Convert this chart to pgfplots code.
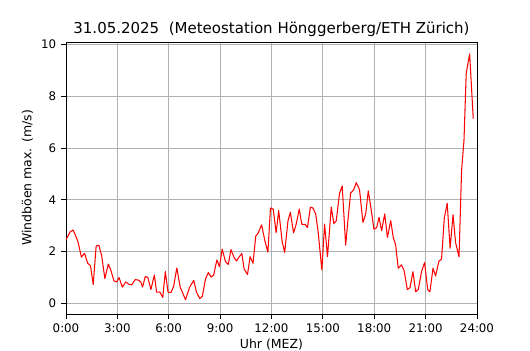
\documentclass[border=0pt]{standalone}
\usepackage{fontspec}
\setmainfont{DejaVu Sans}
\usepackage{pgfplots}
\pgfplotsset{compat=1.18}
\begin{document}
\begin{tikzpicture}
\useasboundingbox (0,0) rectangle (381.6pt,252pt);
\begin{axis}[
  at={(47.52pt,25.92pt)}, anchor=south west,
  scale only axis, width=295.92pt, height=195.84pt,
  xmin=0, xmax=24, ymin=-0.42, ymax=10.1,
  xtick={0,3,...,24},
  xticklabels={0:00,3:00,6:00,9:00,12:00,15:00,18:00,21:00,24:00},
  ytick={0,2,4,6,8,10},
  /pgf/number format/assume math mode=true,
  tick label style={font=\fontsize{8.5}{10}\selectfont},
  label style={font=\fontsize{9}{11}\selectfont},
  title style={font=\fontsize{10.8}{13}\selectfont, yshift=-6pt},
  title={31.05.2025\ \ (Meteostation Hönggerberg/ETH Zürich)},
  xlabel={Uhr (MEZ)}, ylabel={Windböen max. (m/s)},
  grid=major, major grid style={color=black!31, line width=0.6pt},
  tick pos=left, tick align=outside, major tick length=3.5pt,
  tick style={black, line width=0.6pt},
  axis line style={line width=0.6pt},
  xticklabel style={yshift=0pt},
  xlabel style={yshift=2pt},
  ylabel style={yshift=-1pt},
]
\addplot[red, line width=0.75pt, line join=round] coordinates {
(0,2.46) (0.25,2.76) (0.41,2.83) (0.55,2.63) (0.7,2.37) (0.9,1.78) (1.08,1.93)
(1.27,1.54) (1.43,1.45) (1.59,0.72) (1.76,2.21) (1.92,2.24) (2.08,1.84) (2.27,0.95)
(2.47,1.51) (2.63,1.25) (2.8,0.86) (2.96,0.82) (3.1,0.99) (3.29,0.62) (3.49,0.82)
(3.69,0.72) (3.84,0.71) (4.04,0.91) (4.24,0.89) (4.37,0.82) (4.47,0.62) (4.63,1.03)
(4.78,0.99) (4.96,0.53) (5.16,1.09) (5.29,0.43) (5.49,0.42) (5.65,0.22) (5.8,1.22)
(5.96,0.42) (6.14,0.42) (6.29,0.66) (6.47,1.36) (6.67,0.62) (6.98,0.13) (7.22,0.62)
(7.46,0.88) (7.62,0.42) (7.81,0.18) (7.96,0.26) (8.15,0.95) (8.31,1.18) (8.48,1.01)
(8.62,1.08) (8.81,1.67) (8.96,1.41) (9.12,2.09) (9.31,1.61) (9.48,1.5) (9.63,2.07)
(9.83,1.74) (9.96,1.63) (10.12,1.8) (10.27,1.92) (10.4,1.32) (10.6,1.11) (10.75,1.8)
(10.92,1.54) (11.08,2.59) (11.23,2.72) (11.42,3.03) (11.62,2.39) (11.79,1.97)
(11.94,3.68) (12.1,3.64) (12.27,2.72) (12.42,3.58) (12.62,2.39) (12.77,1.96)
(12.96,3.18) (13.1,3.51) (13.29,2.72) (13.44,3.05) (13.62,3.64) (13.77,3.05)
(13.96,3.05) (14.1,2.92) (14.27,3.71) (14.42,3.68) (14.58,3.45) (14.73,2.72)
(14.94,1.28) (15.1,3.06) (15.27,1.8) (15.49,3.71) (15.64,3.08) (15.78,3.18)
(15.97,4.24) (16.13,4.53) (16.33,2.24) (16.48,3.32) (16.62,4.26) (16.79,4.37)
(16.95,4.66) (17.14,4.39) (17.34,3.12) (17.5,3.45) (17.65,4.34) (17.83,3.58)
(17.98,2.86) (18.14,2.92) (18.28,3.32) (18.43,2.8) (18.61,3.45) (18.77,2.54)
(18.96,3.19) (19.11,2.54) (19.25,2.25) (19.4,1.35) (19.58,1.48) (19.74,1.27)
(19.93,0.53) (20.09,0.6) (20.26,1.22) (20.42,0.44) (20.57,0.53) (20.77,1.24)
(20.94,1.57) (21.12,0.53) (21.25,0.44) (21.43,1.35) (21.58,1.05) (21.78,1.63)
(21.93,1.7) (22.09,3.29) (22.26,3.86) (22.43,2.12) (22.6,3.42) (22.75,2.34)
(22.95,1.79) (23.1,5.13) (23.24,6.3) (23.37,8.89) (23.57,9.64) (23.78,7.14)
};
\end{axis}
\end{tikzpicture}
\end{document}
